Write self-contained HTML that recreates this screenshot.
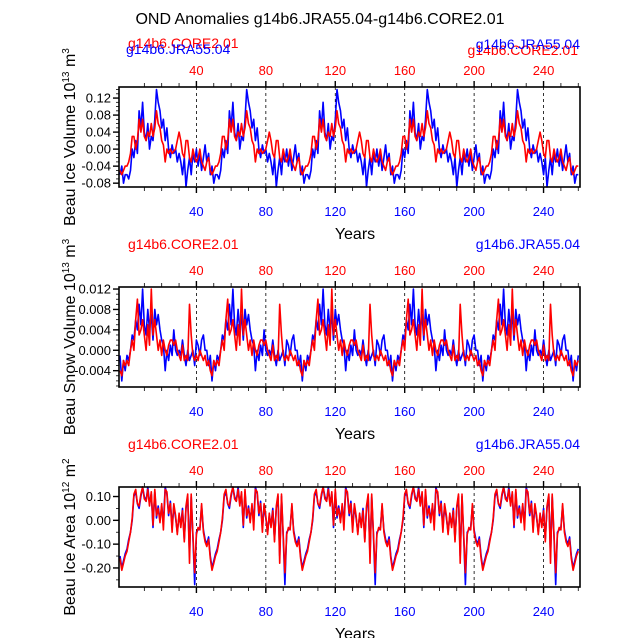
<!DOCTYPE html>
<html><head><meta charset="utf-8"><style>
body{margin:0;background:#fff}
svg{display:block;font-family:"Liberation Sans",sans-serif}
</style></head><body>
<svg id="c" width="638" height="638" viewBox="0 0 638 638">
<text x="320" y="24" font-size="16" text-anchor="middle">OND Anomalies g14b6.JRA55.04-g14b6.CORE2.01</text>
</svg>
<script>
// One 52-year forcing cycle per series (years 52..103), repeated over the run
const iceBlue=[-0.06,-0.07,-0.05,0.0,-0.02,0.02,-0.01,0.09,0.05,0.11,0.04,0.02,0.06,0.0,0.03,0.02,0.07,0.14,0.11,0.09,0.05,0.07,0.02,0.05,0.0,-0.02,0.01,-0.01,0.0,-0.03,-0.01,-0.03,-0.06,-0.02,-0.09,-0.05,-0.02,-0.06,-0.01,-0.03,0.0,-0.04,-0.01,-0.05,-0.02,0.01,-0.03,-0.01,-0.06,-0.04,-0.08,-0.06];
const iceRed=[-0.04,-0.03,-0.01,0.03,0.03,0.0,0.02,0.07,0.04,0.07,0.03,0.02,0.04,0.03,0.06,0.03,0.05,0.09,0.06,0.05,0.02,0.01,-0.03,0.0,-0.01,0.0,-0.01,-0.005,0.0,0.02,0.04,0.02,-0.01,-0.02,0.02,0.02,-0.02,-0.03,0.0,-0.02,-0.03,-0.02,0.0,-0.03,-0.04,-0.05,-0.03,-0.02,-0.05,-0.06,-0.05,-0.04];
const snowBlue=[-0.001,-0.002,0.0,0.003,0.002,0.006,0.004,0.009,0.005,0.012,0.005,0.003,0.008,0.004,0.007,0.002,0.008,0.005,0.007,0.004,0.002,0.001,-0.004,0.0,-0.002,0.001,-0.001,0.004,0.0,-0.001,0.0,-0.001,0.002,-0.001,-0.003,0.0,-0.002,-0.001,0.0,-0.003,0.002,0.001,-0.001,0.002,0.003,0.0,0.0,-0.003,-0.001,-0.006,-0.002,-0.004];
const snowRed=[-0.002,-0.003,0.0,0.002,0.0,0.006,0.010,0.003,0.004,0.006,0.003,0.0,0.005,0.001,0.012,0.003,0.006,0.003,0.0,0.002,-0.001,0.002,0.0,-0.001,0.001,0.002,0.002,0.001,0.002,0.0,-0.001,-0.002,0.001,-0.002,-0.001,-0.002,0.009,0.003,-0.001,-0.002,-0.001,-0.002,0.0,-0.001,-0.002,-0.001,-0.003,-0.002,-0.004,-0.005,-0.002,-0.003];
const areaBlue=[-0.12,-0.08,-0.05,0.0,0.10,0.12,0.07,0.05,0.10,0.14,0.10,0.08,0.14,0.07,0.11,-0.03,0.12,0.01,0.06,0.0,0.06,-0.01,0.14,0.11,0.02,0.08,-0.03,0.06,0.01,-0.05,0.02,-0.02,0.05,-0.08,0.05,0.10,-0.15,0.10,-0.07,-0.27,-0.05,-0.04,-0.03,0.06,-0.04,-0.08,-0.10,-0.07,-0.15,-0.20,-0.17,-0.14];
const areaRed=[-0.13,-0.09,-0.05,0.01,0.11,0.13,0.07,0.06,0.11,0.14,0.09,0.08,0.13,0.06,0.12,-0.02,0.13,0.02,0.05,-0.01,0.07,-0.04,0.13,0.12,0.03,0.07,-0.05,0.07,0.02,-0.06,0.03,-0.03,0.04,-0.09,0.06,0.11,-0.18,0.11,-0.06,-0.22,-0.06,-0.03,-0.04,0.07,-0.05,-0.09,-0.11,-0.08,-0.16,-0.21,-0.18,-0.15];
const xTicks=[40,80,120,160,200,240];
const iceTicks=[-0.08,-0.04,0.00,0.04,0.08,0.12];
const snowTicks=[-0.004,0.000,0.004,0.008,0.012];
const areaTicks=[-0.20,-0.10,0.00,0.10];

const svg=document.getElementById('c');
const NS='http://www.w3.org/2000/svg';
function mk(tag,attrs,parent){const e=document.createElementNS(NS,tag);for(const k in attrs)e.setAttribute(k,attrs[k]);(parent||svg).appendChild(e);return e;}
const X0=119,X1=580,XMIN=-4.6,XMAX=261;
function xs(v){return X0+(v-XMIN)/(XMAX-XMIN)*(X1-X0);}
const years=[];for(let y=-4;y<=260;y++)years.push(y);
function cyc(arr,y){return arr[((y-52)%52+52)%52];}

const panels=[
 {top:87,ymin:-0.089,ymax:0.146,ticks:iceTicks,dec:2,minor:0.01,b:iceBlue,r:iceRed,name:'ice-volume',lab:'Beau Ice Volume 10',sup:'13',unit:' m',usup:'3',overlap:true},
 {top:287,ymin:-0.0072,ymax:0.0124,ticks:snowTicks,dec:3,minor:0.001,b:snowBlue,r:snowRed,name:'snow-volume',lab:'Beau Snow Volume 10',sup:'13',unit:' m',usup:'3'},
 {top:487,ymin:-0.28,ymax:0.14,ticks:areaTicks,dec:2,minor:0.05,b:areaBlue,r:areaRed,name:'ice-area',lab:'Beau Ice Area 10',sup:'12',unit:' m',usup:'2'}
];
panels.forEach(p=>{
 const T=p.top,B=p.top+100;
 const g=mk('g',{});
 
 
 const ys=v=>B-(v-p.ymin)/(p.ymax-p.ymin)*(B-T);
 xTicks.forEach(t=>{const l=mk('line',{x1:xs(t),x2:xs(t),y1:T,y2:B,stroke:'#000','stroke-width':0.8,'stroke-dasharray':'3,3'},g);
  
  });
 [[p.b,'#0000ff','blue'],[p.r,'#ff0000','red']].forEach(([arr,col,nm])=>{
  const pts=years.map(y=>xs(y).toFixed(1)+','+Math.max(T,Math.min(B,ys(cyc(arr,y)))).toFixed(1)).join(' ');
  const pl=mk('polyline',{points:pts,fill:'none',stroke:col,'stroke-width':1.6,'stroke-linejoin':'round'},g);
  
  
 });
 const fr=mk('rect',{x:X0,y:T,width:X1-X0,height:B-T,fill:'none',stroke:'#000','stroke-width':1.6},g);
 
 
 for(let t=10;t<=260;t+=10){const maj=t%40===0;const len=maj?6:4;
  mk('line',{x1:xs(t),x2:xs(t),y1:T-len,y2:T,stroke:'#000','stroke-width':maj?1.4:0.8},g);
  mk('line',{x1:xs(t),x2:xs(t),y1:B,y2:B+len,stroke:'#000','stroke-width':maj?1.4:0.8},g);}
 xTicks.forEach(t=>{
  const a=mk('text',{x:xs(t),y:T-12,'font-size':13,fill:'#ff0000','text-anchor':'middle'},g);a.textContent=t;
  
  
  const b=mk('text',{x:xs(t),y:B+29,'font-size':13,fill:'#0000ff','text-anchor':'middle'},g);b.textContent=t;
  
  
 });
 const st=p.minor;for(let v=Math.ceil(p.ymin/st)*st;v<=p.ymax+1e-9;v+=st){const y=ys(v);if(y<T-0.1||y>B+0.1)continue;
  mk('line',{x1:X0-3,x2:X0,y1:y,y2:y,stroke:'#000','stroke-width':0.8},g);}
 p.ticks.forEach(v=>{const y=ys(v);
  mk('line',{x1:X0-6,x2:X0,y1:y,y2:y,stroke:'#000','stroke-width':1.4},g);
  const t=mk('text',{x:X0-8,y:y+4.5,'font-size':13,'text-anchor':'end'},g);t.textContent=v.toFixed(p.dec);
  
  });
 const ry=p.overlap?T-39:T-38, by=p.overlap?T-33:T-38;
 const l1=mk('text',{x:128,y:ry,'font-size':14,fill:'#ff0000'},g);l1.textContent='g14b6.CORE2.01';
 
 
 if(p.overlap){const l2=mk('text',{x:126,y:by,'font-size':14,fill:'#0000ff'},g);l2.textContent='g14b6.JRA55.04';
  
  
  const r2=mk('text',{x:578,y:T-32,'font-size':14,fill:'#ff0000','text-anchor':'end'},g);r2.textContent='g14b6.CORE2.01';
  
  }
 const r1=mk('text',{x:580,y:T-38,'font-size':14,fill:'#0000ff','text-anchor':'end'},g);r1.textContent='g14b6.JRA55.04';
 
 
 const yr=mk('text',{x:355,y:B+52,'font-size':16,'text-anchor':'middle'},g);yr.textContent='Years';
 
 
 const yt=mk('text',{x:0,y:0,'font-size':16,'text-anchor':'middle',transform:`translate(75,${(T+B)/2}) rotate(-90)`},g);
 
 
 yt.appendChild(document.createTextNode(p.lab));
 const s1=mk('tspan',{dy:-6,'font-size':10},yt);s1.textContent=p.sup;
 const s2=mk('tspan',{dy:6},yt);s2.textContent=p.unit;
 const s3=mk('tspan',{dy:-6,'font-size':10},yt);s3.textContent=p.usup;
});
</script>
</body></html>
